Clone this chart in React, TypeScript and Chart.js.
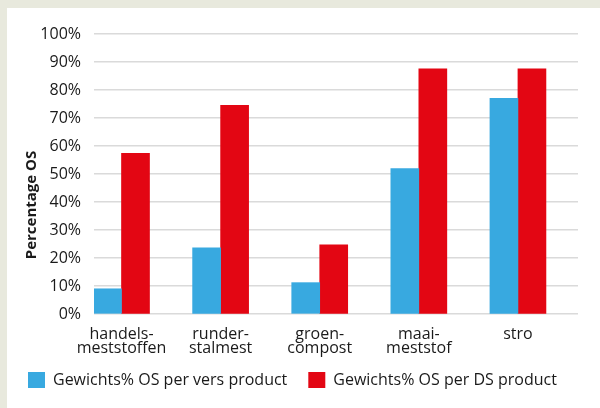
import React, { useEffect, useRef } from 'react';
import { Chart, registerables } from 'chart.js';

Chart.register(...registerables);

// Product categories (two-line labels where the word is hyphenated)
const CATEGORIES: string[][] = [
  ['handels-', 'meststoffen'],
  ['runder-', 'stalmest'],
  ['groen-', 'compost'],
  ['maai-', 'meststof'],
  ['stro'],
];

// Organic matter as weight % of fresh product
const OS_VERS: number[] = [9.0, 23.6, 11.2, 51.9, 77.0];
// Organic matter as weight % of dry matter
const OS_DS: number[] = [57.4, 74.5, 24.7, 87.6, 87.6];

const SERIES_LABELS: string[] = [
  'Gewichts% OS per vers product',
  'Gewichts% OS per DS product',
];

const Y_TITLE = 'Percentage OS';

const BLUE = '#38a9e0';
const RED = '#e30613';
const TEXT = '#1a1a1a';
const GRID = '#dadada';
const FONT = '"Open Sans", "Noto Sans", sans-serif';

// Rotated axis title placed beside the value axis
const axisTitlePlugin = {
  id: 'axisTitle',
  afterDraw(chart: Chart) {
    const { ctx, chartArea } = chart;
    ctx.save();
    ctx.translate(25, chartArea.top + 171);
    ctx.rotate(-Math.PI / 2);
    ctx.font = `bold 15px ${FONT}`;
    ctx.fillStyle = TEXT;
    ctx.textAlign = 'center';
    ctx.textBaseline = 'middle';
    ctx.fillText(Y_TITLE, 0, 0);
    ctx.restore();
  },
};

export default function App() {
  const canvasRef = useRef<HTMLCanvasElement | null>(null);

  useEffect(() => {
    const canvas = canvasRef.current;
    if (!canvas) return;
    const chart = new Chart(canvas, {
      type: 'bar',
      data: {
        datasets: [
          {
            label: SERIES_LABELS[0],
            data: OS_VERS.map((v, i) => ({ x: i, y: v })),
            backgroundColor: BLUE,
            barThickness: 28,
          },
          {
            label: SERIES_LABELS[1],
            data: OS_DS.map((v, i) => ({ x: i, y: v })),
            backgroundColor: RED,
            barThickness: 28,
          },
        ],
      },
      options: {
        animation: false,
        responsive: false,
        maintainAspectRatio: false,
        layout: { padding: { top: 26, left: 0, right: 6, bottom: 10 } },
        plugins: {
          tooltip: { enabled: false },
          legend: {
            position: 'bottom',
            align: 'start',
            labels: {
              boxWidth: 17,
              boxHeight: 16,
              padding: 21,
              color: TEXT,
              font: { family: FONT, size: 16 },
            },
          },
        },
        scales: {
          x: {
            type: 'linear',
            offset: false,
            min: -0.2775,
            max: 4.606,
            grid: { display: false, offset: false },
            border: { display: false },
            afterBuildTicks: (scale: any) => {
              scale.ticks = CATEGORIES.map((_, i) => ({ value: i }));
            },
            afterFit: (scale: any) => {
              scale.height = 37;
              // let the second label line's descenders run past the axis box
              scale._computeLabelArea = () => undefined;
            },
            ticks: {
              autoSkip: false,
              maxRotation: 0,
              minRotation: 0,
              padding: 5,
              color: TEXT,
              font: { family: FONT, size: 16, lineHeight: 0.875 },
              callback: (value: any) => CATEGORIES[Math.round(Number(value))] ?? '',
            },
          },
          y: {
            min: 0,
            max: 100,
            grid: { color: GRID, lineWidth: 1.4, drawTicks: false },
            border: { display: false },
            afterFit: (scale: any) => {
              scale.width = 87;
            },
            ticks: {
              stepSize: 10,
              padding: 13,
              color: TEXT,
              font: { family: FONT, size: 16 },
              callback: (value: any) => `${value}%`,
            },
          },
          // empty right-hand margin axis so the plot ends short of the edge
          yRight: {
            position: 'right',
            min: 0,
            max: 100,
            grid: { display: false },
            border: { display: false },
            ticks: { display: false },
            afterFit: (scale: any) => {
              scale.width = 16;
            },
          },
        },
      },
      plugins: [axisTitlePlugin],
    });
    return () => chart.destroy();
  }, []);

  return (
    <div
      style={{
        position: 'fixed',
        left: 0,
        top: 0,
        width: 600,
        height: 408,
        background: '#e8e9dd',
      }}
    >
      <div
        style={{
          position: 'absolute',
          left: 7,
          top: 8,
          width: 593,
          height: 400,
          background: '#ffffff',
        }}
      >
        <canvas ref={canvasRef} width={593} height={400} style={{ display: 'block' }} />
      </div>
    </div>
  );
}
